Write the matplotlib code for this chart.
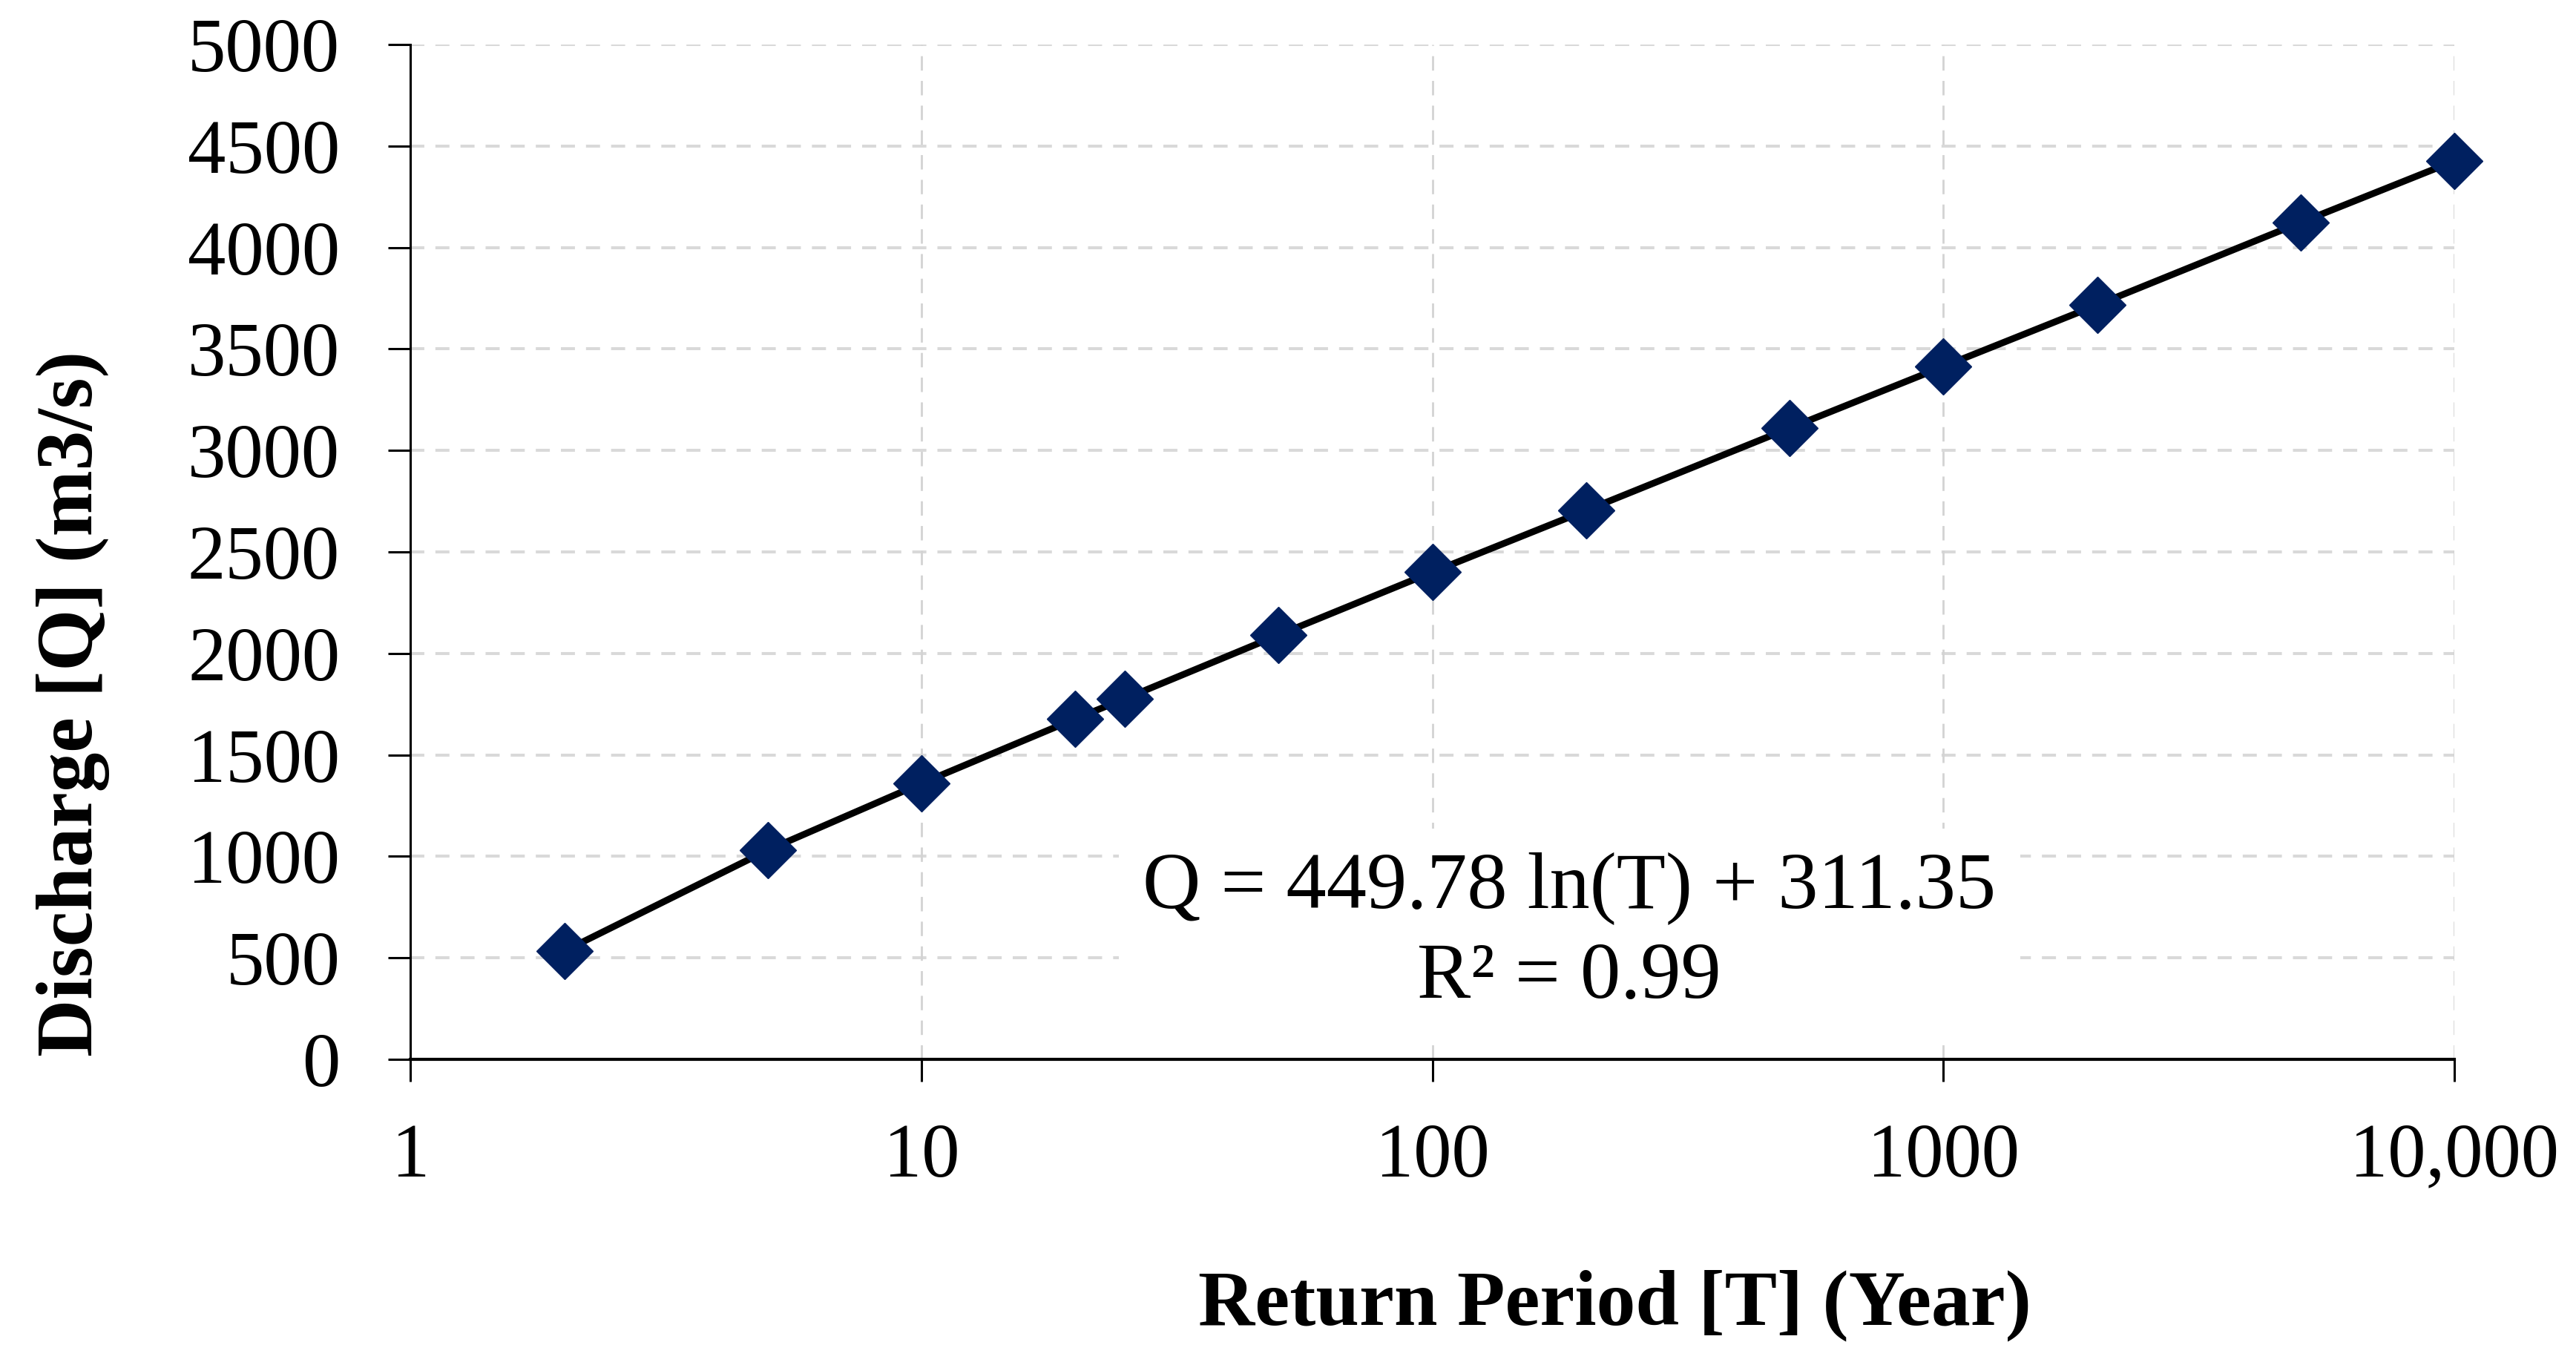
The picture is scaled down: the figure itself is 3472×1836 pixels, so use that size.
# Flood frequency: discharge vs return period on a log axis, with the log fit annotated.
import matplotlib
matplotlib.use("Agg")
import matplotlib.pyplot as plt
from matplotlib.ticker import FixedLocator, NullLocator

plt.rcParams['font.family'] = ['Liberation Serif', 'DejaVu Serif']

# data
return_period = [2, 5, 10, 20, 25, 50, 100, 200, 500, 1000, 2000, 5000, 10000]
discharge = [534, 1031, 1360, 1678, 1777, 2091, 2401, 2705, 3110, 3414, 3717, 4123, 4426]

x_ticks = [1, 10, 100, 1000, 10000]
x_tick_labels = ['1', '10', '100', '1000', '10,000']
y_ticks = list(range(0, 5001, 500))

fit_text = 'Q = 449.78 ln(T) + 311.35\nR\u00b2 = 0.99'

fig = plt.figure(figsize=(34.72, 18.36), dpi=100)
ax = fig.add_axes([0.1594, 0.2222, 0.9528 - 0.1594, 0.9673 - 0.2222])

ax.set_xscale('log')
ax.set_xlim(1, 10000)
ax.set_ylim(0, 5000)

# grid: horizontal lines thicker than vertical ones
for y in y_ticks[1:]:
    ax.axhline(y, color='#d9d9d9', lw=2.9, ls=(0, (4.7, 3.7)), zorder=0)
for x in x_ticks[1:]:
    ax.axvline(x, color='#d3d3d3', lw=2.0, ls=(0, (7, 5)), zorder=0)

ax.plot(return_period, discharge, color='black', lw=6.5, zorder=2, clip_on=False)
ax.plot(return_period, discharge, ls='none', marker='D', ms=39,
        color='#002060', mec='#002060', mew=1, zorder=3, clip_on=False)

ax.xaxis.set_major_locator(FixedLocator(x_ticks))
ax.xaxis.set_minor_locator(NullLocator())
ax.set_xticklabels(x_tick_labels)
ax.set_yticks(y_ticks)

for s in ['top', 'right']:
    ax.spines[s].set_visible(False)
ax.spines['left'].set_linewidth(2.2)
ax.spines['bottom'].set_linewidth(3.0)

ax.tick_params(axis='both', direction='out', length=21.6, width=2.2,
               labelsize=74, colors='black')
ax.tick_params(axis='y', pad=47)
ax.tick_params(axis='x', pad=40)

ax.text(0.567, 0.124, fit_text, transform=ax.transAxes, ha='center', va='center',
        multialignment='center', fontsize=78, linespacing=1.3,
        bbox=dict(boxstyle='square,pad=0.3', facecolor='white', edgecolor='none'),
        zorder=4)

fig.text(98 / 3472, 1 - 948 / 1836, 'Discharge [Q] (m3/s)', rotation=90,
         ha='center', va='center', fontsize=77, fontweight='bold')
fig.text(2176 / 3472, 1 - 1785 / 1836, 'Return Period [T] (Year)',
         ha='center', va='baseline', fontsize=76, fontweight='bold')

fig.savefig('out.png', dpi=100, facecolor='white')
plt.close(fig)
